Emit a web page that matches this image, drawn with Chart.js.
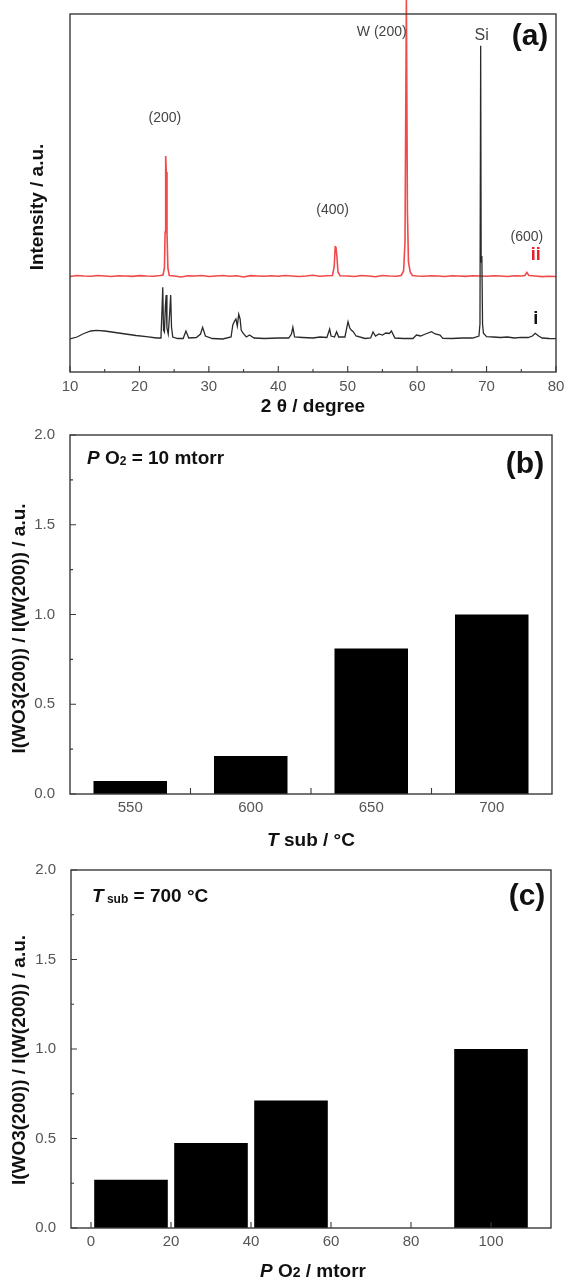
<!DOCTYPE html>
<html>
<head>
<meta charset="utf-8">
<script src="https://cdn.jsdelivr.net/npm/chart.js@4.4.0/dist/chart.umd.min.js"></script>
<style>
  html, body { margin: 0; padding: 0; background: #fff; }
  #page { position: relative; width: 564px; height: 1281px; }
  canvas { position: absolute; left: 0; }
</style>
</head>
<body>
<div id="page">
  <canvas id="xrd" width="564" height="420" style="top:0"></canvas>
  <canvas id="tsub" width="564" height="430" style="top:420px"></canvas>
  <canvas id="po2" width="564" height="431" style="top:850px"></canvas>
</div>
<script>
// (a) XRD patterns, intensity in a.u. (traces offset as in the figure)
var xrd_i_x = [10, 11, 12, 13, 13.8, 15, 16.5, 18, 19.5, 21,
    22.5, 23.1, 23.25, 23.36, 23.47, 23.6, 23.74, 23.85, 23.96, 24.15,
    24.35, 24.5, 24.62, 24.8, 25.5, 26.3, 26.7, 27.1, 28.2, 28.8,
    29.1, 29.5, 30.5, 32, 33.2, 33.45, 33.7, 33.9, 34.1, 34.3,
    34.5, 34.66, 34.9, 35.4, 35.86, 36.5, 38, 40, 41.5, 41.9,
    42.1, 42.35, 43.5, 45, 46, 47, 47.4, 47.6, 48.1, 48.4,
    48.7, 49.6, 50.04, 50.3, 50.5, 50.8, 51.2, 52.5, 53.3, 53.65,
    54, 54.5, 55, 55.5, 56, 56.3, 56.8, 58, 59.4, 59.9,
    60.5, 61.2, 62.07, 62.6, 63.3, 63.7, 65, 66.5, 68, 68.9,
    69.05, 69.15, 69.22, 69.32, 69.42, 69.55, 70, 71, 72, 73,
    74, 75, 76, 76.6, 77, 77.5, 78, 79, 80];
var xrd_i_y = [33, 35, 38.5, 41, 41.7, 41, 39.5, 38, 36.5, 35.3,
    34, 34, 62, 84.7, 42, 40, 66, 77, 44, 38,
    58, 77, 45, 35, 33.5, 33.5, 41, 34, 34.5, 38,
    44.7, 36, 33.5, 33, 35, 47, 51, 53, 46, 57.7,
    53, 42, 39, 35, 37, 34, 33.5, 34, 34, 38,
    44.7, 35, 34.5, 34, 35, 34.5, 43, 36, 35, 40.3,
    35, 35, 50.3, 44, 42, 40.3, 36, 33.5, 34, 40,
    36, 38, 37, 39, 38.5, 41, 34, 33.5, 33.5, 37,
    36, 38, 40.3, 38, 37, 33.7, 33.5, 34, 34, 36,
    48, 326.3, 110, 116, 48, 38.7, 35.3, 35, 34.5, 35,
    34, 34.7, 34.5, 36, 38.7, 36, 34, 33.5, 33.3];

var xrd_ii_x = [10, 11, 12, 13, 14, 15, 16, 17, 18, 19,
    20, 21, 22, 23, 23.4, 23.6, 23.7, 23.78, 23.87, 23.97,
    24.1, 24.3, 25, 26, 27, 28, 29, 30, 31, 32,
    33, 34, 35, 36, 37, 38, 39, 40, 41, 42,
    43, 44, 45, 46, 47, 47.8, 48.05, 48.2, 48.3, 48.45,
    48.6, 48.9, 50, 51, 52, 53, 54, 55, 56, 57,
    57.7, 58.05, 58.25, 58.45, 58.6, 58.75, 59, 59.3, 60, 61,
    62, 63, 64, 65, 66, 67, 68, 69, 70, 71,
    72, 73, 74, 75, 75.5, 75.8, 76.1, 77, 78, 79, 80];
var xrd_ii_y = [95.5, 96.5, 96, 95.7, 96.5, 96, 95.5, 96.3, 96, 95.6,
    96.4, 96, 95.8, 96.5, 97, 104, 140, 216, 200, 140,
    104, 96.5, 96, 95, 96.3, 96, 96.5, 95.5, 96, 96.5,
    95.8, 96.2, 95, 96.4, 96, 95.7, 96.2, 95.8, 96.5, 96,
    95.5, 96, 96.7, 95.8, 96.2, 96.5, 105, 125.3, 125, 115,
    100, 96.3, 96, 95.5, 96.5, 96, 95.3, 96.5, 96, 95.8,
    96.5, 101, 130, 372, 160, 110, 100, 96.5, 96, 95.7,
    96.3, 96, 95.5, 96.2, 96, 95.6, 96.3, 96, 95.7, 96.2,
    96, 95.5, 96.3, 96, 96.5, 99.5, 96.5, 96, 95.4, 95.8, 95.5];

var xrd_ticks = [10, 20, 30, 40, 50, 60, 70, 80];
var xrd_minor = [15, 25, 35, 45, 55, 65, 75];

var peak_labels = ['(200)', '(400)', 'W (200)', 'Si', '(600)'];
var peak_x = [23.67, 47.83, 54.9, 69.3, 75.8];
var peak_y = [254, 162, 340, 336, 135];

var trace_labels = ['i', 'ii'];
var trace_x = [77.1, 77.1];
var trace_y = [53, 117];

// (b) ratio vs substrate temperature, PO2 = 10 mtorr
var tsub_labels = ['550', '600', '650', '700'];
var tsub_ratio = [0.072, 0.212, 0.81, 1.0];

// (c) ratio vs oxygen pressure, Tsub = 700 C
var po2_x = [10, 30, 50, 100];
var po2_ratio = [0.27, 0.475, 0.712, 1.0];
var po2_ticks = [0, 20, 40, 60, 80, 100];

var ratio_ticks = [0, 0.5, 1, 1.5, 2];
var ratio_minor = [0.25, 0.75, 1.25, 1.75];

var FAM = '"Liberation Sans", Arial, sans-serif';
Chart.defaults.font.family = FAM;

function draw_runs(ctx, runs, x, y, align, rotate)
{
    var widths = runs.map(function(r) { ctx.font = r[1]; return ctx.measureText(r[0]).width; });
    var total = widths.reduce(function(s, w) { return s + w; }, 0);
    ctx.save();
    ctx.translate(x, y);
    if (rotate)
        ctx.rotate(-Math.PI / 2);
    var cx = align === 'left' ? 0 : -total / 2;
    ctx.textBaseline = 'middle';
    ctx.textAlign = 'left';
    runs.forEach(function(r, k) {
        ctx.font = r[1];
        ctx.fillStyle = r[3] || '#111';
        ctx.fillText(r[0], cx, r[2] || 0);
        cx += widths[k];
    });
    ctx.restore();
}

// box round the plot, inward ticks, and the free texts
function overlay(ticks, texts)
{
    return {
        id: 'overlay',
        afterDraw: function(chart) {
            var ctx = chart.ctx, a = chart.chartArea;
            ctx.save();
            ctx.strokeStyle = '#3a3a3a';
            ctx.lineWidth = 1.4;
            ctx.strokeRect(a.left, a.top, a.right - a.left, a.bottom - a.top);
            ctx.lineWidth = 1.1;
            ctx.beginPath();
            (ticks.x || []).forEach(function(t) {
                var px = chart.scales.x.getPixelForValue(t[0]);
                ctx.moveTo(px, a.bottom);
                ctx.lineTo(px, a.bottom - t[1]);
            });
            (ticks.y || []).forEach(function(t) {
                var py = chart.scales.y.getPixelForValue(t[0]);
                ctx.moveTo(a.left, py);
                ctx.lineTo(a.left + t[1], py);
            });
            ctx.stroke();
            ctx.restore();
            texts(chart, ctx, a);
        }
    };
}

function with_len(values, len)
{
    return values.map(function(v) { return [v, len]; });
}

// fixed axis boxes, so the plot areas sit where the figure has them
function fix_height(h)
{
    return function(s) { s.height = h; s.paddingLeft = 0; s.paddingRight = 0; };
}

function fix_width(w)
{
    return function(s) { s.width = w; s.paddingTop = 0; s.paddingBottom = 0; };
}

function bold(size) { return 'bold ' + size + 'px ' + FAM; }
function bold_it(size) { return 'italic bold ' + size + 'px ' + FAM; }
function plain(size) { return size + 'px ' + FAM; }

var ratio_title = [['I(WO3(200)) / I(W(200)) / a.u.', bold(19)]];

function ratio_y_axis(width)
{
    return {
        min: 0,
        max: 2,
        afterBuildTicks: function(s) { s.ticks = ratio_ticks.map(function(v) { return {value: v}; }); },
        afterFit: fix_width(width),
        grid: {display: false, drawTicks: false},
        border: {display: false},
        ticks: {
            color: '#555',
            font: {size: 15},
            padding: 15,
            callback: function(v) { return Number(v).toFixed(1); }
        }
    };
}

window.addEventListener('load', function()
{
    draw_xrd();
    draw_tsub();
    draw_po2();
});

function draw_xrd()
{
    var ticks = {x: with_len(xrd_ticks, 6).concat(with_len(xrd_minor, 3))};
    var texts = function(chart, ctx, a) {
        var sx = chart.scales.x, sy = chart.scales.y;
        draw_runs(ctx, [['2 \u03b8 / degree', bold(19)]], (a.left + a.right) / 2, a.bottom + 35, 'center');
        draw_runs(ctx, [['Intensity / a.u.', bold(19)]], a.left - 32, (a.top + a.bottom) / 2 + 14, 'center', true);
        draw_runs(ctx, [['(a)', bold(30)]], a.right - 26, a.top + 23, 'center');
        peak_labels.forEach(function(t, k) {
            var size = t === 'Si' ? 16 : 14;
            draw_runs(ctx, [[t, plain(size), 0, '#444']], sx.getPixelForValue(peak_x[k]), sy.getPixelForValue(peak_y[k]), 'center');
        });
        trace_labels.forEach(function(t, k) {
            var color = t === 'ii' ? '#e8202a' : '#111';
            draw_runs(ctx, [[t, bold(18), 0, color]], sx.getPixelForValue(trace_x[k]), sy.getPixelForValue(trace_y[k]), 'center');
        });
    };

    new Chart(document.getElementById('xrd'), {
        type: 'line',
        data: {
            datasets: [
                {
                    label: 'i',
                    data: xrd_i_x.map(function(x, k) { return {x: x, y: xrd_i_y[k]}; }),
                    borderColor: '#2a2a2a',
                    borderWidth: 1.3,
                    pointRadius: 0,
                    tension: 0
                },
                {
                    label: 'ii',
                    data: xrd_ii_x.map(function(x, k) { return {x: x, y: xrd_ii_y[k]}; }),
                    borderColor: '#f04a4a',
                    borderWidth: 1.6,
                    pointRadius: 0,
                    tension: 0,
                    clip: false
                }
            ]
        },
        options: {
            responsive: false,
            animation: false,
            layout: {padding: {left: 0, right: 8, top: 14, bottom: 0}},
            plugins: {legend: {display: false}, tooltip: {enabled: false}},
            scales: {
                x: {
                    type: 'linear',
                    min: 10,
                    max: 80,
                    afterBuildTicks: function(s) { s.ticks = xrd_ticks.map(function(v) { return {value: v}; }); },
                    afterFit: fix_height(48),
                    grid: {display: false, drawTicks: false},
                    border: {display: false},
                    ticks: {color: '#555', font: {size: 15}, padding: 6, maxRotation: 0, autoSkip: false}
                },
                y: {
                    min: 0,
                    max: 358,
                    afterFit: fix_width(70),
                    grid: {display: false, drawTicks: false},
                    border: {display: false},
                    ticks: {display: false}
                }
            }
        },
        plugins: [overlay(ticks, texts)]
    });
}

function draw_tsub()
{
    var ticks = {
        x: with_len([0.5, 1.5, 2.5], 6),
        y: with_len(ratio_ticks, 6).concat(with_len(ratio_minor, 3))
    };
    var texts = function(chart, ctx, a) {
        draw_runs(ctx, ratio_title, a.left - 50, (a.top + a.bottom) / 2 + 14, 'center', true);
        draw_runs(ctx, [['T', bold_it(19)], [' sub / \u00b0C', bold(19)]], (a.left + a.right) / 2, a.bottom + 47, 'center');
        draw_runs(ctx, [['P', bold_it(19)], [' O', bold(19)], ['2', bold(12), 3], [' = 10 mtorr', bold(19)]], a.left + 17, a.top + 24, 'left');
        draw_runs(ctx, [['(b)', bold(30)]], a.right - 27, a.top + 30, 'center');
    };

    new Chart(document.getElementById('tsub'), {
        type: 'bar',
        data: {
            labels: tsub_labels,
            datasets: [{
                data: tsub_ratio,
                backgroundColor: '#000',
                borderWidth: 0,
                barPercentage: 0.61,
                categoryPercentage: 1
            }]
        },
        options: {
            responsive: false,
            animation: false,
            layout: {padding: {left: 0, right: 12, top: 15, bottom: 0}},
            plugins: {legend: {display: false}, tooltip: {enabled: false}},
            scales: {
                x: {
                    afterFit: fix_height(56),
                    grid: {display: false, drawTicks: false},
                    border: {display: false},
                    ticks: {color: '#555', font: {size: 15}, padding: 5, maxRotation: 0}
                },
                y: ratio_y_axis(70)
            }
        },
        plugins: [overlay(ticks, texts)]
    });
}

function draw_po2()
{
    var ticks = {
        x: with_len(po2_ticks, 6),
        y: with_len(ratio_ticks, 6).concat(with_len(ratio_minor, 3))
    };
    var texts = function(chart, ctx, a) {
        draw_runs(ctx, ratio_title, a.left - 51, (a.top + a.bottom) / 2 + 11, 'center', true);
        draw_runs(ctx, [['P', bold_it(19)], [' O', bold(19)], ['2', bold(14), 1], [' / mtorr', bold(19)]], (a.left + a.right) / 2 + 2, a.bottom + 44, 'center');
        draw_runs(ctx, [['T', bold_it(19)], [' sub', bold(12), 3], [' = 700 \u00b0C', bold(19)]], a.left + 21, a.top + 27, 'left');
        draw_runs(ctx, [['(c)', bold(30)]], a.right - 24, a.top + 27, 'center');
    };

    new Chart(document.getElementById('po2'), {
        type: 'bar',
        data: {
            datasets: [{
                data: po2_x.map(function(x, k) { return {x: x, y: po2_ratio[k]}; }),
                backgroundColor: '#000',
                borderWidth: 0,
                barPercentage: 0.92,
                categoryPercentage: 1
            }]
        },
        options: {
            responsive: false,
            animation: false,
            layout: {padding: {left: 0, right: 13, top: 20, bottom: 0}},
            plugins: {legend: {display: false}, tooltip: {enabled: false}},
            scales: {
                x: {
                    type: 'linear',
                    min: -5,
                    max: 115,
                    offset: false,
                    afterBuildTicks: function(s) { s.ticks = po2_ticks.map(function(v) { return {value: v}; }); },
                    afterFit: fix_height(53),
                    grid: {display: false, drawTicks: false},
                    border: {display: false},
                    ticks: {color: '#555', font: {size: 15}, padding: 5, maxRotation: 0, autoSkip: false}
                },
                y: ratio_y_axis(71)
            }
        },
        plugins: [overlay(ticks, texts)]
    });
}
</script>
</body>
</html>
